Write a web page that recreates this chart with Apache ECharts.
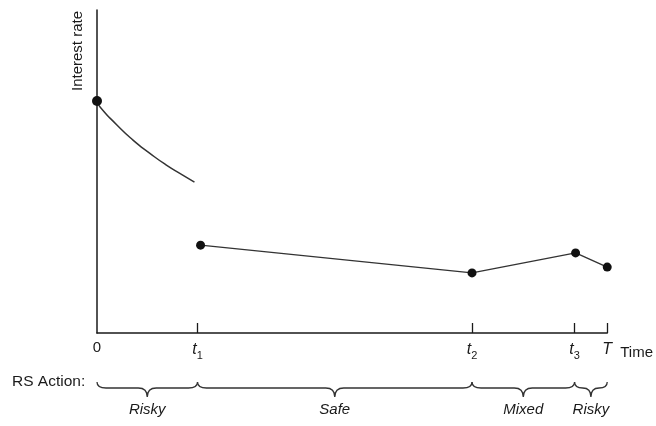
<!DOCTYPE html>
<html>
<head>
<meta charset="utf-8">
<script src="https://cdn.jsdelivr.net/npm/echarts@6/dist/echarts.min.js"></script>
<style>
html,body{margin:0;padding:0;background:#fff;}
#chart{width:656px;height:426px;}
</style>
</head>
<body>
<div id="chart"></div>
<script>
// ---- data ----
const tickValues = [0, 1.97, 7.35, 9.36, 10];
const tickLabels = ['0', 't1', 't2', 't3', 'T'];
const curveX = [0, 0.06, 0.39, 0.70, 1.03, 1.36, 1.68, 1.91];
const curveY = [7.18, 7.0, 6.44, 5.98, 5.57, 5.20, 4.89, 4.67];
const lineX = [2.03, 7.35, 9.38, 10];
const lineY = [2.72, 1.86, 2.48, 2.04];
const actionStart = [0, 1.97, 7.35, 9.36];
const actionEnd = [1.97, 7.35, 9.36, 10];
const actionLabels = ['Risky', 'Safe', 'Mixed', 'Risky'];
const yAxisTitle = 'Interest rate';
const xAxisTitle = 'Time';
const actionTitle = 'RS Action:';

const INK = '#1a1a1a';
const FONT = 'Liberation Sans, Arial, sans-serif';

function labelFor(v) {
  for (let i = 0; i < tickValues.length; i++) {
    if (Math.abs(tickValues[i] - v) < 0.005) {
      const s = tickLabels[i];
      if (s.length === 2) return '{it|' + s[0] + '}{sub|' + s[1] + '}';
      if (s === 'T') return '{it|T}';
      return '{n|' + s + '}';
    }
  }
  return '';
}

const chart = echarts.init(document.getElementById('chart'), null, {renderer: 'canvas'});
chart.setOption({
  animation: false,
  backgroundColor: '#ffffff',
  grid: {left: 97, right: 46, top: 10, bottom: 93, containLabel: false},
  xAxis: {
    type: 'value', min: 0, max: 10,
    splitLine: {show: false},
    axisLine: {show: true, lineStyle: {color: INK, width: 1.5}},
    axisTick: {show: true, inside: true, length: 10, customValues: tickValues.slice(1), lineStyle: {color: INK, width: 1.3}},
    axisLabel: {
      show: true, customValues: tickValues, margin: 7,
      formatter: labelFor,
      rich: {
        n: {fontSize: 15, color: INK, fontFamily: FONT, lineHeight: 20, verticalAlign: 'top'},
        it: {fontSize: 16, fontStyle: 'italic', color: INK, fontFamily: FONT, lineHeight: 20, verticalAlign: 'top', padding: [2, 0, 0, 0]},
        sub: {fontSize: 11, color: INK, fontFamily: FONT, lineHeight: 20, verticalAlign: 'top', padding: [10, 0, 0, 0]}
      }
    },
    name: xAxisTitle, nameLocation: 'end', nameGap: 13,
    nameTextStyle: {fontSize: 15, color: INK, fontFamily: FONT, verticalAlign: 'top', padding: [12, 0, 0, 0]}
  },
  yAxis: {
    type: 'value', min: 0, max: 10,
    splitLine: {show: false},
    axisLine: {show: true, lineStyle: {color: INK, width: 1.5}},
    axisTick: {show: false},
    axisLabel: {show: false}
  },
  graphic: [
    {type: 'text', x: 78, y: 51, rotation: Math.PI / 2,
      style: {text: yAxisTitle, fontSize: 15, fontFamily: FONT, fill: INK, align: 'center', verticalAlign: 'middle'}},
    {type: 'text', x: 12, y: 382,
      style: {text: actionTitle, fontSize: 15.5, fontFamily: FONT, fill: INK, align: 'left', verticalAlign: 'middle'}}
  ],
  series: [
    {
      type: 'line', smooth: 0.6,
      data: curveX.map((x, i) => [x, curveY[i]]),
      symbol: 'circle', showSymbol: true,
      symbolSize: (v, p) => (p.dataIndex === 0 ? 10 : 0),
      itemStyle: {color: '#111'},
      lineStyle: {color: '#333', width: 1.5}
    },
    {
      type: 'line',
      data: lineX.map((x, i) => [x, lineY[i]]),
      symbol: 'circle', symbolSize: 9,
      itemStyle: {color: '#111'},
      lineStyle: {color: '#333', width: 1.3}
    },
    {
      type: 'custom', clip: false,
      encode: {x: [0, 1], y: 2},
      data: actionStart.map((s, i) => [s, actionEnd[i], 0, i]),
      renderItem: function (params, api) {
        const a = api.coord([api.value(0), 0]);
        const b = api.coord([api.value(1), 0]);
        const base = a[1];
        const x0 = a[0], x1 = b[0], xm = (x0 + x1) / 2;
        const y0 = base + 49, yf = base + 55, yt = base + 64;
        const r = Math.min(9, (x1 - x0) / 4);
        const d = 'M' + x0 + ' ' + y0 +
          ' Q' + x0 + ' ' + yf + ' ' + (x0 + r) + ' ' + yf +
          ' L' + (xm - r) + ' ' + yf +
          ' Q' + xm + ' ' + yf + ' ' + xm + ' ' + yt +
          ' Q' + xm + ' ' + yf + ' ' + (xm + r) + ' ' + yf +
          ' L' + (x1 - r) + ' ' + yf +
          ' Q' + x1 + ' ' + yf + ' ' + x1 + ' ' + y0;
        return {
          type: 'group',
          children: [
            {type: 'path', shape: {pathData: d}, style: {fill: null, stroke: '#333', lineWidth: 1.3}},
            {type: 'text', x: xm, y: base + 77,
              style: {text: actionLabels[api.value(3)], fontSize: 15, fontStyle: 'italic', fontFamily: FONT, fill: INK, align: 'center', verticalAlign: 'middle'}}
          ]
        };
      }
    }
  ]
});
</script>
</body>
</html>
